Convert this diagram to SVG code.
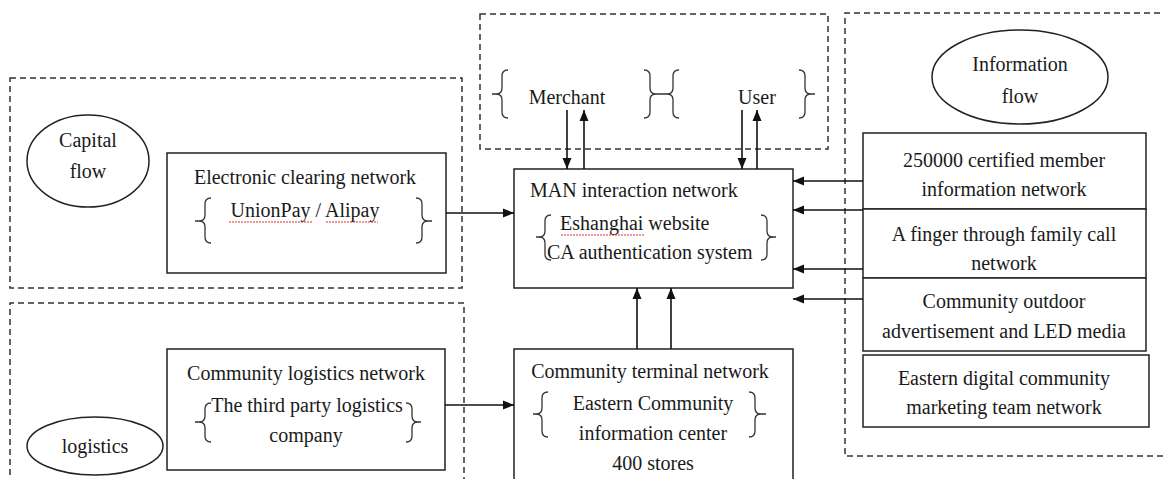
<svg xmlns="http://www.w3.org/2000/svg" width="1164" height="479" viewBox="0 0 1164 479">
<style>
.t{font-family:"Liberation Serif","Times New Roman",serif;font-size:20px;fill:#1a1a1a}
.c{text-anchor:middle}
.dash{fill:none;stroke:#333;stroke-width:1.5;stroke-dasharray:6 4}
.box{fill:#fff;stroke:#222;stroke-width:1.5}
.ell{fill:#fff;stroke:#222;stroke-width:1.5}
.br{fill:none;stroke:#333;stroke-width:1.3}
.ln{fill:none;stroke:#111;stroke-width:1.6}
.sq{fill:none;stroke:#e03030;stroke-width:1;stroke-dasharray:2 1}
</style>
<defs>
<marker id="ah" viewBox="0 0 11 10" refX="11" refY="5" markerWidth="11" markerHeight="10" markerUnits="userSpaceOnUse" orient="auto">
<path d="M0,0.5 L11,5 L0,9.5 z" fill="#111"/>
</marker>
</defs>

<!-- dashed regions -->
<g id="regions">
<rect class="dash" x="480" y="14" width="348" height="135"/>
<rect class="dash" x="10" y="78" width="452" height="210"/>
<path class="dash" d="M10,485 L10,303 L464,303 L464,485"/>
<path class="dash" d="M1170,13 L845,13 L845,456 L1170,456"/>
</g>

<!-- top: merchant / user -->
<g id="merchant-user">
<path class="br" d="M508,70 Q502,70 502,76 L502,88 Q502,94 496,94 L492,94 M496,94 Q502,94 502,100 L502,112 Q502,118 508,118"/>
<text class="t c" x="567" y="104">Merchant</text>
<path class="br" d="M644,70 Q650,70 650,76 L650,88 Q650,94 656,94 L662,94 M656,94 Q650,94 650,100 L650,112 Q650,118 644,118"/>
<path class="br" d="M679,70 Q673,70 673,76 L673,88 Q673,94 667,94 L662,94 M667,94 Q673,94 673,100 L673,112 Q673,118 679,118"/>
<text class="t c" x="757" y="104">User</text>
<path class="br" d="M799,70 Q805,70 805,76 L805,88 Q805,94 811,94 L815,94 M811,94 Q805,94 805,100 L805,112 Q805,118 799,118"/>
</g>

<!-- capital flow -->
<g id="capital-flow">
<ellipse class="ell" cx="88" cy="161" rx="61" ry="46"/>
<text class="t c" x="88" y="147">Capital</text>
<text class="t c" x="88" y="178">flow</text>
</g>
<g id="electronic-clearing">
<rect class="box" x="167" y="153" width="279" height="120"/>
<text class="t c" x="305" y="184">Electronic clearing network</text>
<text class="t c" x="305" y="217">UnionPay / Alipay</text>
<path class="sq" d="M229,222 L313,222 M326,222 L378,222"/>
<path class="br" d="M211,198 Q205,198 205,204 L205,215 Q205,221 199,221 L195,221 M199,221 Q205,221 205,227 L205,237 Q205,243 211,243"/>
<path class="br" d="M416,198 Q422,198 422,204 L422,215 Q422,221 428,221 L432,221 M428,221 Q422,221 422,227 L422,237 Q422,243 416,243"/>
</g>

<!-- MAN -->
<g id="man-network">
<rect class="box" x="514" y="169" width="279" height="119"/>
<text class="t" x="530" y="197">MAN interaction network</text>
<text class="t" x="560" y="230">Eshanghai website</text>
<path class="sq" d="M561,235 L645,235"/>
<text class="t" x="547" y="259">CA authentication system</text>
<path class="br" d="M551,215 Q545,215 545,221 L545,231 Q545,237 539,237 L536,237 M539,237 Q545,237 545,243 L545,254 Q545,260 551,260"/>
<path class="br" d="M761,215 Q767,215 767,221 L767,231 Q767,237 773,237 L776,237 M773,237 Q767,237 767,243 L767,254 Q767,260 761,260"/>
</g>

<!-- information flow -->
<g id="information-flow">
<ellipse class="ell" cx="1020" cy="77" rx="88" ry="47"/>
<text class="t c" x="1020" y="71">Information</text>
<text class="t c" x="1020" y="103">flow</text>
</g>
<g id="certified-member">
<rect class="box" x="863" y="133" width="283" height="76"/>
<text class="t c" x="1004" y="167">250000 certified member</text>
<text class="t c" x="1004" y="196">information network</text>
</g>
<g id="family-call">
<rect class="box" x="863" y="209" width="283" height="69"/>
<text class="t c" x="1004" y="241">A finger through family call</text>
<text class="t c" x="1004" y="270">network</text>
</g>
<g id="outdoor-ad">
<rect class="box" x="863" y="278" width="283" height="73"/>
<text class="t c" x="1004" y="308">Community outdoor</text>
<text class="t c" x="1004" y="338">advertisement and LED media</text>
</g>
<g id="marketing-team">
<rect class="box" x="863" y="355" width="286" height="72"/>
<text class="t c" x="1004" y="385">Eastern digital community</text>
<text class="t c" x="1004" y="414">marketing team network</text>
</g>

<!-- logistics -->
<g id="logistics">
<ellipse class="ell" cx="95" cy="446" rx="68" ry="29"/>
<text class="t c" x="95" y="453">logistics</text>
</g>
<g id="community-logistics">
<rect class="box" x="167" y="349" width="278" height="121"/>
<text class="t c" x="306" y="380">Community logistics network</text>
<text class="t c" x="307" y="412">The third party logistics</text>
<text class="t c" x="306" y="442">company</text>
<path class="br" d="M211,403 Q205,403 205,409 L205,416 Q205,422 199,422 L195,422 M199,422 Q205,422 205,428 L205,436 Q205,442 211,442"/>
<path class="br" d="M406,403 Q412,403 412,409 L412,416 Q412,422 418,422 L421,422 M418,422 Q412,422 412,428 L412,436 Q412,442 406,442"/>
</g>

<!-- community terminal -->
<g id="community-terminal">
<path class="box" d="M514,485 L514,349 L793,349 L793,485"/>
<text class="t c" x="650" y="378">Community terminal network</text>
<text class="t c" x="653" y="410">Eastern Community</text>
<text class="t c" x="653" y="440">information center</text>
<text class="t c" x="653" y="470">400 stores</text>
<path class="br" d="M548,392 Q542,392 542,398 L542,408 Q542,414 536,414 L533,414 M536,414 Q542,414 542,420 L542,431 Q542,437 548,437"/>
<path class="br" d="M749,392 Q755,392 755,398 L755,408 Q755,414 761,414 L766,414 M761,414 Q755,414 755,420 L755,431 Q755,437 749,437"/>
</g>

<!-- connectors -->
<g id="connectors">
<line class="ln" x1="567" y1="110" x2="567" y2="169" marker-end="url(#ah)"/>
<line class="ln" x1="584" y1="169" x2="584" y2="110" marker-end="url(#ah)"/>
<line class="ln" x1="742" y1="110" x2="742" y2="169" marker-end="url(#ah)"/>
<line class="ln" x1="757" y1="169" x2="757" y2="110" marker-end="url(#ah)"/>
<line class="ln" x1="446" y1="213" x2="514" y2="213" marker-end="url(#ah)"/>
<line class="ln" x1="445" y1="405" x2="514" y2="405" marker-end="url(#ah)"/>
<line class="ln" x1="637" y1="349" x2="637" y2="288" marker-end="url(#ah)"/>
<line class="ln" x1="671" y1="349" x2="671" y2="288" marker-end="url(#ah)"/>
<line class="ln" x1="863" y1="181" x2="793" y2="181" marker-end="url(#ah)"/>
<line class="ln" x1="863" y1="210" x2="793" y2="210" marker-end="url(#ah)"/>
<line class="ln" x1="863" y1="269" x2="793" y2="269" marker-end="url(#ah)"/>
<line class="ln" x1="863" y1="299" x2="793" y2="299" marker-end="url(#ah)"/>
</g>
</svg>
